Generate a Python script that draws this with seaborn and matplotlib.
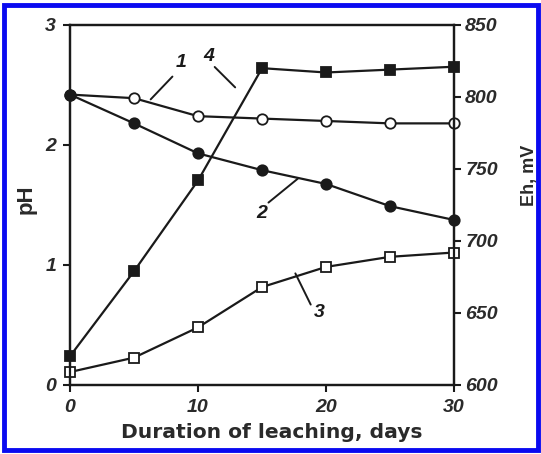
import matplotlib
matplotlib.use("Agg")
import matplotlib.pyplot as plt
from matplotlib.patches import Rectangle
import seaborn as sns
import pandas as pd

sns.set_theme(style="white")
plt.rcParams["font.family"] = ["Liberation Sans", "DejaVu Sans"]

days = [0, 5, 10, 15, 20, 25, 30]
ph_1 = [2.42, 2.39, 2.24, 2.22, 2.20, 2.18, 2.18]
ph_2 = [2.42, 2.18, 1.93, 1.79, 1.675, 1.49, 1.375]
eh_3 = [609, 619, 640, 668, 682, 689, 692]
eh_4 = [620, 679, 742, 820, 817, 819, 821]

ph_ticks = [0, 1, 2, 3]
eh_ticks = [600, 650, 700, 750, 800, 850]
day_ticks = [0, 10, 20, 30]

df = pd.DataFrame({"day": days, "ph1": ph_1, "ph2": ph_2, "eh3": eh_3, "eh4": eh_4})

fig = plt.figure(figsize=(5.41, 4.54), dpi=100)
ax = fig.add_axes([0.1294, 0.152, 0.710, 0.793])
ax2 = ax.twinx()

ink = "#1a1a1a"
line_kw = dict(color=ink, linewidth=1.6, markeredgecolor=ink,
               markeredgewidth=1.3, clip_on=False)
sns.lineplot(data=df, x="day", y="ph1", ax=ax, marker="o", markersize=7.5,
             markerfacecolor="white", **line_kw)
sns.lineplot(data=df, x="day", y="ph2", ax=ax, marker="o", markersize=7.5,
             markerfacecolor=ink, **line_kw)
sns.lineplot(data=df, x="day", y="eh3", ax=ax2, marker="s", markersize=7.5,
             markerfacecolor="white", **line_kw)
sns.lineplot(data=df, x="day", y="eh4", ax=ax2, marker="s", markersize=6.5,
             markerfacecolor=ink, **line_kw)

ax.set_xlim(0, 30)
ax.set_ylim(0, 3)
ax2.set_ylim(600, 850)
ax.set_xticks(day_ticks)
ax.set_yticks(ph_ticks)
ax2.set_yticks(eh_ticks)

tick_font = dict(fontsize=14, fontstyle="italic", fontweight="bold", color="#2a2a2a")
ax.set_xticklabels([str(t) for t in day_ticks], **tick_font)
ax.set_yticklabels([str(t) for t in ph_ticks], **tick_font)
ax2.set_yticklabels([str(t) for t in eh_ticks], **tick_font)

for a in (ax, ax2):
    for s in a.spines.values():
        s.set_color(ink)
        s.set_linewidth(1.6)
ax.tick_params(axis="both", direction="out", length=5, width=1.5, color=ink,
               left=True, bottom=True, pad=5)
ax2.tick_params(axis="y", direction="out", length=5, width=1.5, color=ink,
                right=True, pad=3)

ax.set_xlabel("Duration of leaching, days", family=["DejaVu Sans"], fontsize=14.6,
              fontweight="bold", color="#2a2a2a")
ax.xaxis.set_label_coords(0.526, -0.106)
ax.set_ylabel("pH", fontsize=16, fontweight="bold", color="#2a2a2a")
ax.yaxis.set_label_coords(-0.086, 0.517)
ax2.set_ylabel("Eh, mV", fontsize=13, fontweight="bold", color="#2a2a2a")
ax2.yaxis.set_label_coords(1.175, 0.581)

# curve numbers with leader lines
lab_font = dict(fontsize=14, fontstyle="italic", fontweight="bold", color=ink)
leaders = [
    ("1", (6.3, 2.38), (8.0, 2.57), (8.7, 2.69)),
    ("4", (12.9, 2.48), (11.3, 2.65), (10.8, 2.74)),
    ("2", (17.8, 1.72), (15.5, 1.52), (15.0, 1.43)),
    ("3", (17.6, 0.93), (18.8, 0.67), (19.5, 0.60)),
]
for txt, p0, p1, pt in leaders:
    ax.plot([p0[0], p1[0]], [p0[1], p1[1]], color=ink, linewidth=1.4)
    ax.text(pt[0], pt[1], txt, ha="center", va="center", **lab_font)

fig.patches.append(Rectangle((0.008, 0.009), 0.986, 0.980, transform=fig.transFigure,
                             fill=False, edgecolor="#0a0af0", linewidth=3.5))

fig.savefig("out.png", dpi=100)
